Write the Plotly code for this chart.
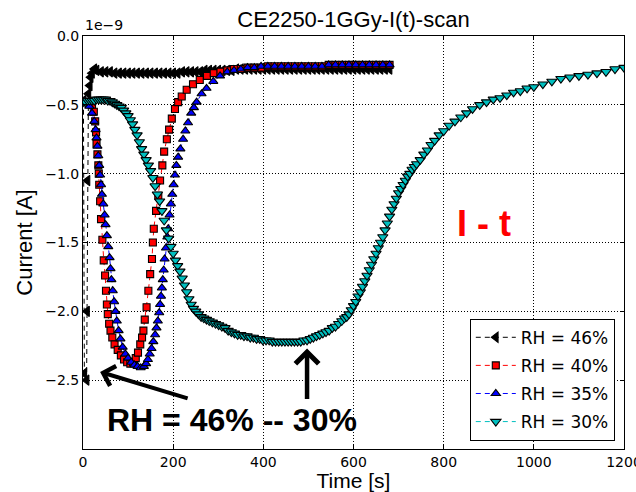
import plotly.graph_objects as go

# ---- data: time [s] and current [1e-9 A] ----
t_rh46 = [1, 3, 8, 9, 10, 12, 15, 17, 20, 25, 30, 40, 50, 60, 70, 80, 90, 100, 110, 120,
          130, 140, 150, 160, 170, 180, 190, 200, 210, 220, 230, 240, 250, 260, 270, 280,
          290, 300, 310, 320, 330, 340, 350, 360, 370, 380, 390, 400, 410, 420, 430, 440,
          450, 460, 470, 480, 490, 500, 510, 520, 530, 540, 550, 560, 570, 580, 590, 600,
          610, 620, 630, 640, 650, 660, 670, 680]
i_rh46 = [-0.47, -2.45, -2.5, -2.0, -1.05, -0.42, -0.36, -0.3, -0.27, -0.24, -0.25, -0.26,
          -0.26, -0.26, -0.27, -0.27, -0.27, -0.27, -0.27, -0.27, -0.27, -0.27, -0.27, -0.27,
          -0.27, -0.27, -0.27, -0.27, -0.27, -0.26, -0.26, -0.26, -0.26, -0.26, -0.25, -0.25,
          -0.25, -0.25, -0.25, -0.25, -0.25, -0.24, -0.24, -0.24, -0.24, -0.24, -0.24, -0.24,
          -0.24, -0.24, -0.24, -0.24, -0.24, -0.24, -0.24, -0.24, -0.24, -0.24, -0.24, -0.24,
          -0.24, -0.24, -0.24, -0.24, -0.24, -0.24, -0.24, -0.24, -0.24, -0.24, -0.24, -0.24,
          -0.24, -0.24, -0.24, -0.24]

t_rh40 = [8, 14, 20, 24, 27, 29, 30, 32, 34, 35, 36, 38, 40, 43, 46, 49, 51, 53, 55, 58,
          61, 65, 70, 77, 84, 91, 98, 105, 111, 117, 122, 127, 131, 134, 137, 141, 145, 149,
          153, 155, 157, 162, 167, 171, 176, 180, 186, 191, 197, 204, 211, 219, 230, 244,
          259, 275, 290, 305, 320, 335, 350, 365, 380, 395, 410, 425, 440, 455, 470, 485,
          500, 515, 530, 545, 560, 575, 590, 605, 620, 635, 650, 665, 680]
i_rh40 = [-0.48, -0.49, -0.5, -0.55, -0.62, -0.7, -0.78, -0.86, -0.94, -1.0, -1.08, -1.2,
          -1.33, -1.48, -1.63, -1.74, -1.85, -1.95, -2.02, -2.09, -2.14, -2.19, -2.24, -2.28,
          -2.32, -2.35, -2.37, -2.38, -2.37, -2.34, -2.3, -2.24, -2.19, -2.14, -2.06, -1.97,
          -1.85, -1.73, -1.62, -1.5, -1.4, -1.27, -1.16, -1.05, -0.94, -0.84, -0.75, -0.68,
          -0.6, -0.53, -0.48, -0.44, -0.39, -0.35, -0.32, -0.29, -0.27, -0.26, -0.25, -0.24,
          -0.24, -0.23, -0.23, -0.23, -0.22, -0.22, -0.22, -0.22, -0.22, -0.22, -0.22, -0.22,
          -0.22, -0.21, -0.21, -0.21, -0.21, -0.21, -0.21, -0.21, -0.21, -0.21, -0.21]

t_rh35 = [5, 10, 14, 20, 25, 28, 30, 32, 34, 36, 38, 40, 42, 45, 48, 50, 53, 56, 59, 61,
          63, 66, 69, 72, 75, 79, 83, 88, 94, 100, 107, 114, 121, 128, 135, 140, 144, 148,
          152, 156, 160, 163, 166, 169, 171, 173, 175, 177, 179, 181, 184, 187, 189, 192,
          195, 198, 201, 204, 207, 211, 216, 222, 227, 233, 240, 246, 252, 263, 274, 289,
          304, 320, 335, 350, 365, 380, 395, 410, 425, 440, 455, 470, 485, 500, 515, 530,
          545, 560, 575, 590, 605, 620, 635, 650, 665, 680]
i_rh35 = [-0.47, -0.48, -0.51, -0.56, -0.62, -0.68, -0.74, -0.8, -0.87, -0.94, -1.01, -1.08,
          -1.15, -1.22, -1.3, -1.37, -1.45, -1.53, -1.61, -1.69, -1.77, -1.85, -1.93, -2.0,
          -2.07, -2.14, -2.2, -2.26, -2.31, -2.34, -2.37, -2.39, -2.4, -2.41, -2.4, -2.38,
          -2.35, -2.31, -2.27, -2.22, -2.17, -2.12, -2.07, -2.01, -1.95, -1.89, -1.83, -1.77,
          -1.7, -1.62, -1.54, -1.46, -1.4, -1.3, -1.22, -1.15, -1.08, -1.01, -0.94, -0.88,
          -0.82, -0.75, -0.69, -0.63, -0.56, -0.52, -0.48, -0.42, -0.38, -0.33, -0.29, -0.26,
          -0.25, -0.24, -0.23, -0.23, -0.22, -0.22, -0.22, -0.22, -0.22, -0.22, -0.22, -0.22,
          -0.22, -0.22, -0.21, -0.21, -0.21, -0.21, -0.21, -0.21, -0.21, -0.21, -0.21, -0.21]

t_rh30 = [0, 5, 10, 15, 20, 25, 30, 35, 40, 45, 50, 55, 60, 65, 70, 75, 80, 85, 90, 95,
          100, 105, 110, 115, 120, 125, 130, 135, 140, 145, 150, 155, 160, 165, 170, 175,
          180, 185, 190, 195, 200, 205, 210, 215, 220, 225, 230, 235, 240, 245, 250, 256,
          262, 268, 274, 280, 287, 294, 301, 308, 315, 322, 329, 336, 343, 350, 357, 364,
          371, 378, 385, 392, 399, 406, 413, 420, 427, 434, 441, 448, 455, 462, 469, 476,
          483, 490, 497, 504, 511, 518, 525, 532, 539, 546, 553, 560, 567, 574, 580, 585,
          590, 595, 600, 605, 610, 615, 620, 625, 630, 635, 640, 645, 650, 655, 660, 665,
          670, 675, 680, 685, 690, 695, 700, 705, 710, 715, 720, 725, 730, 735, 740, 748,
          756, 764, 772, 780, 790, 800, 812, 825, 838, 851, 864, 880, 895, 910, 925, 940,
          955, 970, 985, 1000, 1020, 1040, 1060, 1080, 1100, 1120, 1140, 1160, 1180, 1200]
i_rh30 = [-0.48, -0.48, -0.47, -0.47, -0.47, -0.47, -0.46, -0.46, -0.46, -0.46, -0.46,
          -0.47, -0.47, -0.48, -0.49, -0.5, -0.51, -0.52, -0.54, -0.56, -0.58, -0.61, -0.64,
          -0.68, -0.72, -0.77, -0.82, -0.86, -0.9, -0.94, -0.98, -1.03, -1.09, -1.15, -1.2,
          -1.27, -1.34, -1.41, -1.47, -1.53, -1.58, -1.63, -1.67, -1.71, -1.76, -1.81, -1.86,
          -1.91, -1.95, -1.98, -2.0, -2.02, -2.04, -2.05, -2.06, -2.07, -2.08, -2.09, -2.1,
          -2.11, -2.12, -2.14, -2.15, -2.16, -2.17, -2.17, -2.18, -2.18, -2.19, -2.19, -2.2,
          -2.2, -2.21, -2.21, -2.21, -2.22, -2.22, -2.22, -2.22, -2.22, -2.22, -2.22, -2.22,
          -2.22, -2.22, -2.21, -2.21, -2.2, -2.19, -2.18, -2.17, -2.16, -2.15, -2.14, -2.12,
          -2.11, -2.09, -2.07, -2.05, -2.04, -2.02, -1.99, -1.96, -1.93, -1.89, -1.86, -1.82,
          -1.78, -1.74, -1.7, -1.66, -1.62, -1.58, -1.54, -1.5, -1.46, -1.41, -1.36, -1.31,
          -1.26, -1.22, -1.18, -1.14, -1.11, -1.08, -1.05, -1.02, -1.0, -0.97, -0.95, -0.93,
          -0.9, -0.86, -0.83, -0.79, -0.76, -0.72, -0.69, -0.65, -0.62, -0.59, -0.56, -0.53,
          -0.5, -0.48, -0.46, -0.45, -0.43, -0.41, -0.4, -0.38, -0.37, -0.35, -0.33, -0.31,
          -0.3, -0.29, -0.28, -0.27, -0.26, -0.24, -0.23]

series_names = ["RH = 46%", "RH = 40%", "RH = 35%", "RH = 30%"]
series_t = [t_rh46, t_rh40, t_rh35, t_rh30]
series_i = [i_rh46, i_rh40, i_rh35, i_rh30]
series_colors = ["#000000", "#FF0000", "#0000FF", "#00BFBF"]
series_symbols = ["triangle-left", "square", "triangle-up", "triangle-down"]
series_sizes = [9, 7, 8, 9]

x_ticks = [0, 200, 400, 600, 800, 1000, 1200]
y_ticks = [0.0, -0.5, -1.0, -1.5, -2.0, -2.5]
y_ticktext = ["0.0", "\u22120.5", "\u22121.0", "\u22121.5", "\u22122.0", "\u22122.5"]

TICKFONT = dict(family="DejaVu Sans", size=14, color="black")
LABELFONT = "Liberation Sans, Arial, sans-serif"

fig = go.Figure()
for name, t, i, c, s, sz in zip(series_names, series_t, series_i, series_colors,
                                series_symbols, series_sizes):
    fig.add_trace(go.Scatter(
        x=t, y=i, mode="lines+markers", name=name, legendgroup=name,
        line=dict(color=c, width=1, dash="5px,4px"),
        marker=dict(symbol=s, size=sz, color=c, line=dict(color="black", width=1.1)),
    ))

axis_common = dict(
    showline=True, linecolor="black", linewidth=1, mirror="ticks",
    ticks="inside", ticklen=4, tickcolor="black", tickwidth=1,
    showgrid=True, gridcolor="black", gridwidth=0.8, griddash="1px,2px",
    zeroline=False, tickfont=TICKFONT, ticklabeloverflow="allow", automargin=False,
)

fig.update_layout(
    width=636, height=492,
    margin=dict(l=83, r=12, t=36, b=43),
    paper_bgcolor="white", plot_bgcolor="white",
    title=dict(text="CE2250-1GGy-I(t)-scan", x=0.5, xref="paper", xanchor="center",
               y=1 - 19 / 492, yref="container", yanchor="middle",
               font=dict(family=LABELFONT, size=22, color="black")),
    xaxis=dict(range=[0, 1200], tickvals=x_ticks, ticktext=[str(v) for v in x_ticks],
               title=dict(text="Time [s]", standoff=4,
                          font=dict(family=LABELFONT, size=21, color="black")),
               **axis_common),
    yaxis=dict(range=[-3.0, 0.0], tickvals=y_ticks, ticktext=y_ticktext,
               title=dict(text="Current [A]", standoff=6,
                          font=dict(family=LABELFONT, size=22, color="black")),
               **axis_common),
    legend=dict(x=0.983, xanchor="right", y=0.02, yanchor="bottom",
                bgcolor="white", bordercolor="black", borderwidth=1,
                font=dict(family="DejaVu Sans", size=17, color="black"),
                tracegroupgap=3, itemwidth=40),
    showlegend=True,
)

# offset text of the y axis
fig.add_annotation(text="1e\u22129", xref="paper", yref="paper", x=0, y=1,
                   xanchor="left", yanchor="bottom", showarrow=False, yshift=1,
                   font=TICKFONT)
# red label
fig.add_annotation(text="<b>I - t</b>", xref="paper", yref="paper", x=0.741, y=0.545,
                   xanchor="center", yanchor="middle", showarrow=False,
                   font=dict(family=LABELFONT, size=36, color="#FF0000"))
# black label
fig.add_annotation(text="<b>RH = 46% -- 30%</b>", xref="paper", yref="paper",
                   x=0.275, y=0.07, xanchor="center", yanchor="middle", showarrow=False,
                   font=dict(family=LABELFONT, size=32, color="black"))
# arrows
fig.add_annotation(text="", x=38, y=-2.44, xref="x", yref="y", ax=89, ay=27,
                   showarrow=True, arrowhead=4, arrowsize=1, arrowwidth=4,
                   arrowcolor="black")
fig.add_annotation(text="", x=497, y=-2.27, xref="x", yref="y", ax=0, ay=52,
                   showarrow=True, arrowhead=4, arrowsize=1, arrowwidth=4.5,
                   arrowcolor="black")

fig.write_html("out.html")
